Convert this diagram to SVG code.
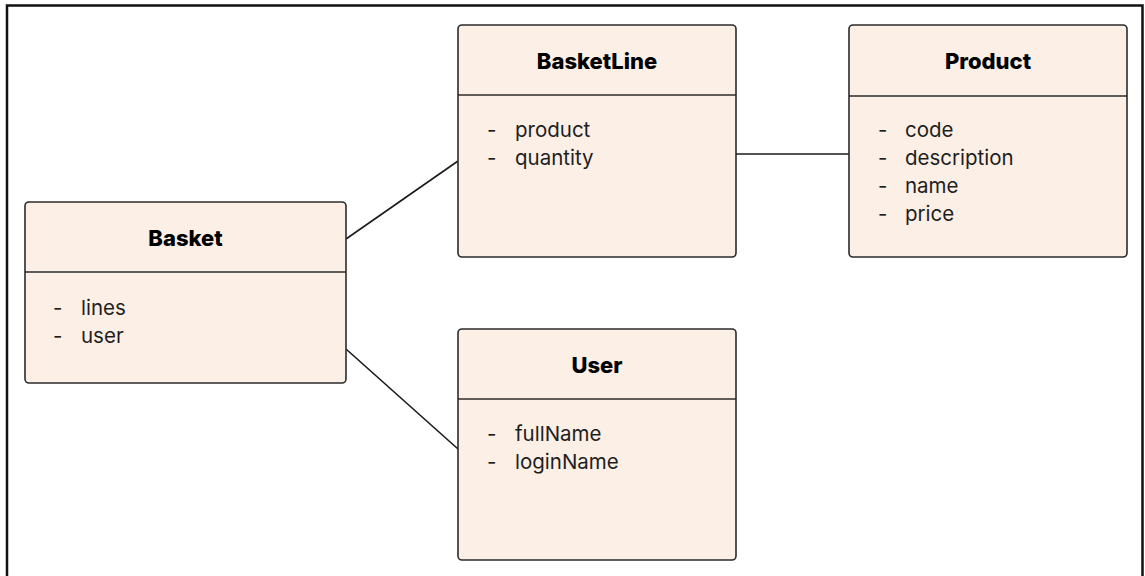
<svg xmlns="http://www.w3.org/2000/svg" width="1145" height="576" viewBox="0 0 1145 576">
<style>
.box{fill:#fcefe5;stroke:#2b2b2b;stroke-width:1.6}
.div{stroke:#2b2b2b;stroke-width:1.6}
.title{font-family:Inter,"Liberation Sans",sans-serif;font-weight:800;font-size:22px;fill:#000;text-anchor:middle}
.attr{font-family:Inter,"Liberation Sans",sans-serif;font-size:20.5px;fill:#1e1e1e}
.conn{stroke:#1a1a1a;stroke-width:1.6;fill:none}
</style>
<rect x="0" y="0" width="1145" height="576" fill="#fff"/>
<path d="M7,578 V5.5 H1142.5 V578" fill="none" stroke="#111" stroke-width="2.5"/>
<g id="connectors">
<line class="conn" x1="346" y1="239" x2="458" y2="161"/>
<line class="conn" x1="346" y1="349" x2="458" y2="449"/>
<line class="conn" x1="736" y1="154" x2="849" y2="154"/>
</g>
<g id="basket">
<rect class="box" x="25" y="202" width="321" height="181" rx="4"/>
<line class="div" x1="25" y1="272" x2="346" y2="272"/>
<text class="title" x="185.5" y="246">Basket</text>
<text class="attr" x="53" y="315">-</text><text class="attr" x="81" y="315">lines</text>
<text class="attr" x="53" y="343">-</text><text class="attr" x="81" y="343">user</text>
</g>
<g id="basketline">
<rect class="box" x="458" y="25" width="278" height="232" rx="4"/>
<line class="div" x1="458" y1="95" x2="736" y2="95"/>
<text class="title" x="597" y="69">BasketLine</text>
<text class="attr" x="487" y="137">-</text><text class="attr" x="515" y="137">product</text>
<text class="attr" x="487" y="165">-</text><text class="attr" x="515" y="165">quantity</text>
</g>
<g id="product">
<rect class="box" x="849" y="25" width="278" height="232" rx="4"/>
<line class="div" x1="849" y1="96" x2="1127" y2="96"/>
<text class="title" x="988" y="69">Product</text>
<text class="attr" x="878" y="137">-</text><text class="attr" x="905" y="137">code</text>
<text class="attr" x="878" y="165">-</text><text class="attr" x="905" y="165">description</text>
<text class="attr" x="878" y="193">-</text><text class="attr" x="905" y="193">name</text>
<text class="attr" x="878" y="221">-</text><text class="attr" x="905" y="221">price</text>
</g>
<g id="user">
<rect class="box" x="458" y="329" width="278" height="231" rx="4"/>
<line class="div" x1="458" y1="399" x2="736" y2="399"/>
<text class="title" x="597" y="373">User</text>
<text class="attr" x="487" y="441">-</text><text class="attr" x="515" y="441">fullName</text>
<text class="attr" x="487" y="469">-</text><text class="attr" x="515" y="469">loginName</text>
</g>
</svg>
